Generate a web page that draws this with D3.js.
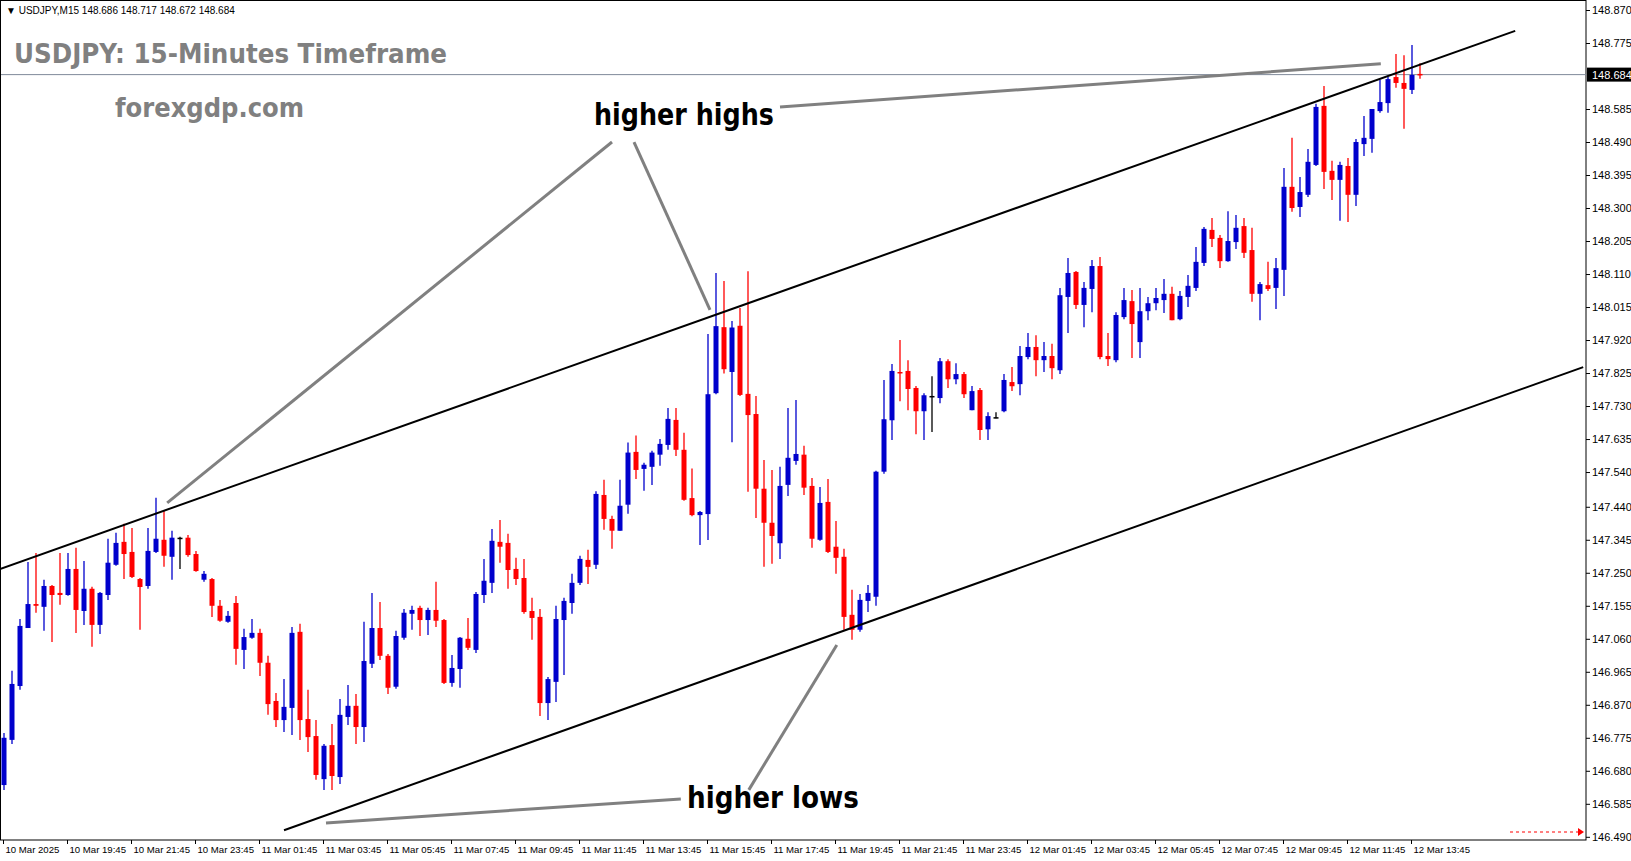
<!DOCTYPE html>
<html lang="en">
<head>
<meta charset="utf-8">
<script src="https://d3js.org/d3.v7.min.js"></script>
<title>USDJPY M15</title>
<style>
  body { margin:0; background:#fff; }
  .axis text { font-family:"Liberation Sans", sans-serif; font-size:11px; fill:#000; }
  .axis path, .axis line { stroke:#000; }
</style>
</head>
<body>
<script>
// candles: [open, high, low, close]
var candles = [
[146.639,146.789,146.625,146.775],[146.769,146.968,146.757,146.930],[146.924,147.117,146.913,147.097],
[147.091,147.281,147.091,147.160],[147.160,147.307,147.135,147.155],[147.152,147.230,147.083,147.212],
[147.212,147.215,147.051,147.186],[147.192,147.307,147.158,147.186],[147.186,147.307,147.184,147.261],
[147.261,147.322,147.077,147.143],[147.140,147.284,147.100,147.204],[147.204,147.210,147.037,147.100],
[147.100,147.195,147.074,147.192],[147.186,147.348,147.172,147.279],[147.273,147.365,147.270,147.336],
[147.339,147.391,147.232,147.304],[147.310,147.379,147.235,147.238],[147.232,147.235,147.086,147.209],
[147.212,147.379,147.204,147.313],[147.310,147.466,147.307,147.348],[147.345,147.431,147.267,147.299],
[147.296,147.371,147.230,147.351],[147.351,147.354,147.261,147.351],[147.351,147.359,147.296,147.301],
[147.304,147.313,147.253,147.255],[147.230,147.255,147.224,147.247],[147.232,147.235,147.123,147.155],
[147.155,147.172,147.109,147.112],[147.109,147.140,147.106,147.126],[147.163,147.183,146.985,147.031],
[147.028,147.089,146.973,147.065],[147.063,147.117,147.060,147.077],[147.077,147.089,146.953,146.991],
[146.991,147.011,146.841,146.872],[146.881,146.904,146.806,146.826],[146.826,146.944,146.792,146.864],
[146.861,147.094,146.783,147.077],[147.080,147.103,146.769,146.826],[146.829,146.913,146.734,146.777],
[146.780,146.826,146.654,146.668],[146.656,146.757,146.625,146.752],[146.754,146.815,146.625,146.665],
[146.662,146.887,146.642,146.841],[146.835,146.927,146.812,146.867],[146.867,146.901,146.757,146.806],
[146.806,147.109,146.763,146.996],[146.988,147.192,146.976,147.091],[147.091,147.166,146.999,147.011],
[147.011,147.016,146.901,146.919],[146.922,147.083,146.916,147.068],[147.063,147.146,147.057,147.135],
[147.132,147.155,147.086,147.143],[147.149,147.155,147.068,147.114],[147.114,147.149,147.071,147.143],
[147.143,147.224,147.094,147.112],[147.114,147.117,146.930,146.933],[146.933,147.013,146.922,146.976],
[146.973,147.065,146.919,147.063],[147.060,147.120,147.028,147.034],[147.028,147.195,147.019,147.189],
[147.186,147.290,147.163,147.227],[147.221,147.376,147.192,147.342],[147.339,147.402,147.279,147.325],
[147.336,147.362,147.204,147.258],[147.261,147.293,147.215,147.232],[147.235,147.290,147.132,147.137],
[147.140,147.178,147.057,147.120],[147.123,147.146,146.838,146.875],[146.875,146.950,146.826,146.944],
[146.936,147.155,146.878,147.117],[147.114,147.178,146.956,147.169],[147.163,147.247,147.132,147.221],
[147.221,147.299,147.215,147.290],[147.287,147.316,147.218,147.267],[147.273,147.485,147.261,147.477],
[147.474,147.518,147.374,147.405],[147.405,147.414,147.319,147.371],[147.371,147.518,147.371,147.443],
[147.446,147.625,147.420,147.596],[147.598,147.645,147.520,147.546],[147.549,147.567,147.486,147.561],
[147.555,147.601,147.503,147.596],[147.590,147.635,147.558,147.621],[147.618,147.724,147.604,147.693],
[147.690,147.724,147.586,147.604],[147.604,147.653,147.457,147.460],[147.465,147.550,147.413,147.416],
[147.416,147.428,147.330,147.425],[147.419,147.937,147.344,147.764],[147.767,148.113,147.764,147.960],
[147.957,148.090,147.824,147.836],[147.828,147.975,147.626,147.956],[147.961,148.012,147.759,147.762],
[147.765,148.118,147.483,147.704],[147.707,147.759,147.408,147.492],[147.492,147.575,147.267,147.394],
[147.394,147.546,147.276,147.356],[147.335,147.555,147.290,147.500],[147.503,147.724,147.471,147.581],
[147.572,147.747,147.561,147.592],[147.590,147.616,147.474,147.495],[147.500,147.523,147.322,147.348],
[147.345,147.497,147.342,147.451],[147.454,147.520,147.307,147.310],[147.325,147.399,147.247,147.293],
[147.296,147.319,147.086,147.123],[147.129,147.201,147.057,147.086],[147.086,147.189,147.080,147.172],
[147.169,147.215,147.137,147.192],[147.181,147.544,147.155,147.541],[147.541,147.805,147.535,147.692],
[147.689,147.851,147.632,147.831],[147.828,147.920,147.744,147.825],[147.831,147.862,147.718,147.779],
[147.782,147.788,147.649,147.715],[147.715,147.767,147.632,147.761],[147.759,147.816,147.655,147.759],
[147.753,147.868,147.738,147.859],[147.859,147.865,147.782,147.807],[147.807,147.853,147.793,147.822],
[147.822,147.828,147.753,147.764],[147.718,147.788,147.718,147.773],[147.776,147.782,147.632,147.661],
[147.663,147.712,147.632,147.701],[147.698,147.712,147.695,147.698],[147.715,147.822,147.712,147.805],
[147.799,147.842,147.773,147.787],[147.793,147.903,147.761,147.874],[147.871,147.940,147.865,147.900],
[147.900,147.934,147.816,147.862],[147.862,147.914,147.828,147.874],[147.874,147.909,147.807,147.839],
[147.833,148.070,147.822,148.049],[148.044,148.156,147.940,148.113],[148.116,148.119,148.009,148.021],
[148.021,148.087,147.957,148.070],[148.067,148.150,148.000,148.133],[148.133,148.159,147.865,147.871],
[147.874,147.940,147.845,147.865],[147.862,148.000,147.856,147.992],[147.986,148.070,147.980,148.035],
[148.032,148.064,147.868,147.966],[147.914,148.070,147.868,148.003],[148.003,148.044,147.977,148.026],
[148.026,148.070,148.006,148.041],[148.035,148.096,147.998,148.053],[148.053,148.073,147.977,147.977],
[147.980,148.061,147.977,148.047],[148.044,148.107,148.015,148.076],[148.070,148.188,148.061,148.145],
[148.142,148.245,148.133,148.240],[148.237,148.271,148.188,148.211],[148.214,148.222,148.127,148.147],
[148.147,148.291,148.145,148.205],[148.202,148.280,148.182,148.243],[148.248,148.271,148.156,148.171],
[148.179,148.243,148.030,148.053],[148.053,148.087,147.977,148.081],[148.078,148.145,148.061,148.067],
[148.070,148.156,148.009,148.127],[148.122,148.415,148.047,148.361],[148.361,148.502,148.289,148.300],
[148.303,148.389,148.274,148.346],[148.338,148.470,148.332,148.433],[148.424,148.600,148.421,148.591],
[148.594,148.651,148.355,148.404],[148.407,148.436,148.323,148.381],[148.381,148.433,148.263,148.424],
[148.421,148.444,148.260,148.338],[148.338,148.499,148.306,148.490],[148.484,148.565,148.450,148.502],
[148.499,148.565,148.459,148.585],[148.579,148.669,148.574,148.605],[148.602,148.677,148.574,148.671],
[148.677,148.743,148.646,148.660],[148.660,148.740,148.528,148.643],[148.640,148.769,148.628,148.683],
[148.686,148.717,148.672,148.684]
];

var timeTickIdx = [0,8,16,24,32,40,48,56,64,72,80,88,96,104,112,120,128,136,144,152,160,168,176];
var timeLabels = ["10 Mar 2025","10 Mar 19:45","10 Mar 21:45","10 Mar 23:45","11 Mar 01:45","11 Mar 03:45",
  "11 Mar 05:45","11 Mar 07:45","11 Mar 09:45","11 Mar 11:45","11 Mar 13:45","11 Mar 15:45","11 Mar 17:45",
  "11 Mar 19:45","11 Mar 21:45","11 Mar 23:45","12 Mar 01:45","12 Mar 03:45","12 Mar 05:45","12 Mar 07:45",
  "12 Mar 09:45","12 Mar 11:45","12 Mar 13:45"];
var priceTicks = [146.490,146.585,146.680,146.775,146.870,146.965,147.060,147.155,147.250,147.345,
  147.440,147.540,147.635,147.730,147.825,147.920,148.015,148.110,148.205,148.300,148.395,148.490,
  148.585,148.775,148.870];
var lastPrice = 148.684;

// channel lines and annotation pointers: [candle index, price]
var upperLine = [[-0.5,147.261],[188.9,148.810]];
var lowerLine = [[35,146.509],[197.4,147.842]];
var pointers = [
  [[20.4,147.451],[76,148.490]],
  [[88.25,148.007],[78.75,148.490]],
  [[97,148.591],[172.1,148.715]],
  [[104.1,147.042],[93.1,146.625]],
  [[40.25,146.530],[84.6,146.599]]
];

var width = 1631, height = 861;
var plotR = 1586, plotB = 840;

var svg = d3.select("body").append("svg").attr("width",width).attr("height",height);

var x = d3.scaleLinear().domain([0,177]).range([4,1420]);
var y = d3.scaleLinear().domain([146.490,148.870]).range([836.8,10]);

// frame
svg.append("rect").attr("x",0.5).attr("y",0.5).attr("width",plotR-0.5).attr("height",plotB-0.5)
  .attr("fill","none").attr("stroke","#000");

// last price line
svg.append("line").attr("x1",1).attr("x2",plotR).attr("y1",y(lastPrice)).attr("y2",y(lastPrice))
  .attr("stroke","#7f8a99").attr("stroke-width",1);

// candles
function col(d){ return d[3]>d[0] ? "#0000cc" : (d[3]<d[0] ? "#ff0000" : "#000"); }
var g = svg.append("g");
g.selectAll("line.wick").data(candles).enter().append("line")
  .attr("x1",function(d,i){return x(i);}).attr("x2",function(d,i){return x(i);})
  .attr("y1",function(d){return y(d[1]);}).attr("y2",function(d){return y(d[2]);})
  .attr("stroke",col).attr("stroke-width",1.3);
g.selectAll("rect").data(candles).enter().append("rect")
  .attr("x",function(d,i){return x(i)-2.5;}).attr("width",5)
  .attr("y",function(d){return y(Math.max(d[0],d[3]));})
  .attr("height",function(d){return Math.max(1.5, Math.abs(y(d[0])-y(d[3])));})
  .attr("fill",col);

// channel
var line = d3.line().x(function(d){return x(d[0]);}).y(function(d){return y(d[1]);});
[upperLine,lowerLine].forEach(function(l){
  svg.append("path").attr("d",line(l)).attr("stroke","#000").attr("stroke-width",2).attr("fill","none");
});
pointers.forEach(function(l){
  svg.append("path").attr("d",line(l)).attr("stroke","#808080").attr("stroke-width",3).attr("fill","none");
});

// price axis
var yAxis = d3.axisRight(y).tickValues(priceTicks).tickSize(4).tickFormat(d3.format(".3f"));
var ya = svg.append("g").attr("class","axis").attr("transform","translate("+plotR+",0)").call(yAxis);
ya.select(".domain").remove();
ya.selectAll("text").attr("x",6);

// last price box
svg.append("rect").attr("x",plotR+1).attr("y",y(lastPrice)-7).attr("width",44).attr("height",14).attr("fill","#000");
svg.append("text").attr("x",plotR+6).attr("y",y(lastPrice)+4).attr("fill","#fff")
  .style("font-family","Liberation Sans").style("font-size","11px").text(lastPrice.toFixed(3));

// time axis
var xAxis = d3.axisBottom(x).tickValues(timeTickIdx).tickSize(4)
  .tickFormat(function(d,i){return timeLabels[i];});
var xa = svg.append("g").attr("class","axis").attr("transform","translate(0,"+plotB+")").call(xAxis);
xa.select(".domain").remove();
xa.selectAll("line").attr("transform","translate(-1,0)");
xa.selectAll("text").attr("text-anchor","start").attr("dx",1).attr("y",6).style("font-size","9.6px");

// shift marker
svg.append("line").attr("x1",1510).attr("x2",1578).attr("y1",832).attr("y2",832)
  .attr("stroke","#ff0000").attr("stroke-dasharray","3,3");
svg.append("path").attr("d","M1578,828L1584,832L1578,836Z").attr("fill","#ff0000");

// texts
svg.append("text").attr("x",6).attr("y",14).style("font-family","Liberation Sans").style("font-size","10px")
  .text("\u25BC USDJPY,M15  148.686 148.717 148.672 148.684");
svg.append("text").attr("x",14).attr("y",63).attr("textLength",433).attr("lengthAdjust","spacingAndGlyphs")
  .style("font-family","DejaVu Sans").style("font-weight","bold").style("font-size","27px").attr("fill","#808080")
  .text("USDJPY: 15-Minutes Timeframe");
svg.append("text").attr("x",115).attr("y",117).attr("textLength",189).attr("lengthAdjust","spacingAndGlyphs")
  .style("font-family","DejaVu Sans").style("font-weight","bold").style("font-size","26px").attr("fill","#808080")
  .text("forexgdp.com");
svg.append("text").attr("x",594).attr("y",125).attr("textLength",180).attr("lengthAdjust","spacingAndGlyphs")
  .style("font-family","DejaVu Sans").style("font-weight","bold").style("font-size","30px").attr("fill","#000")
  .text("higher highs");
svg.append("text").attr("x",687).attr("y",808).attr("textLength",172).attr("lengthAdjust","spacingAndGlyphs")
  .style("font-family","DejaVu Sans").style("font-weight","bold").style("font-size","30px").attr("fill","#000")
  .text("higher lows");
</script>
</body>
</html>
